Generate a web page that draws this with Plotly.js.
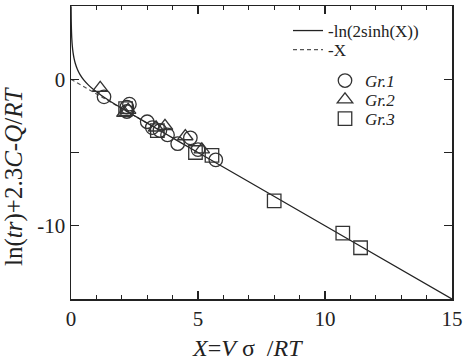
<!DOCTYPE html>
<html>
<head>
<meta charset="utf-8">
<script src="https://cdn.plot.ly/plotly-3.0.1.min.js"></script>
<style>html,body{margin:0;padding:0;background:#fff;}#chart{width:466px;height:362px;}</style>
</head>
<body>
<div id="chart"></div>
<script>
const gr1X = [1.3, 2.2, 2.3, 2.2, 3.0, 3.2, 3.5, 3.8, 4.2, 4.7, 5.0, 5.7];
const gr1Y = [-1.2, -1.9, -1.7, -2.2, -2.9, -3.3, -3.5, -3.8, -4.4, -4.0, -4.8, -5.5];
const gr2X = [1.15, 2.1, 2.25, 3.35, 3.7, 4.5, 5.15];
const gr2Y = [-0.6, -2.3, -2.1, -3.3, -3.2, -3.9, -4.8];
const gr3X = [2.15, 3.4, 4.9, 5.55, 8.0, 10.7, 11.4];
const gr3Y = [-2.0, -3.5, -5.0, -5.2, -8.3, -10.5, -11.5];
// Theory curves: -ln(2 sinh X) and -X
const curveX = [0.0034, 0.005, 0.008, 0.012, 0.02, 0.03, 0.05, 0.08, 0.12, 0.17, 0.25, 0.35, 0.5, 0.7, 0.9, 1.2, 1.5, 2, 2.5, 3, 4, 5, 7, 10, 15];
const dashX = [0, 0.5, 1, 1.5, 2, 2.5, 3];
const curveY = curveX.map(x => -Math.log(2 * Math.sinh(x)));
const dashY = dashX.map(x => -x);
const xTicks = [0, 5, 10, 15];
const yTickVals = [-15, -10, -5, 0, 5];
const yTickText = ['', '-10', '', '0', ''];
const xTitle = '<i>X</i>=<i>V</i>&nbsp;σ&nbsp;&nbsp;/<i>RT</i>';
const yTitle = 'ln(<i>tr</i>)+2.3<i>C</i>-<i>Q</i>/<i>RT</i>';

const F = 'Liberation Serif, Times New Roman, serif';
const mk = (sym) => ({symbol: sym, size: 13.5, color: '#333', line: {color: '#333', width: 1.3}});

const traces = [
  {x: dashX, y: dashY, mode: 'lines', name: '-X', line: {color: '#555', width: 1.2, dash: '4px,3px'}, legend: 'legend2'},
  {x: curveX, y: curveY, mode: 'lines', name: '-ln(2sinh(X))', line: {color: '#222', width: 1.3, shape: 'spline'}, legend: 'legend'},
  {x: gr1X, y: gr1Y, mode: 'markers', name: '<i>Gr.1</i>', marker: mk('circle-open'), legend: 'legend3'},
  {x: gr2X, y: gr2Y, mode: 'markers', name: '<i>Gr.2</i>', marker: mk('triangle-up-open'), legend: 'legend4'},
  {x: gr3X, y: gr3Y, mode: 'markers', name: '<i>Gr.3</i>', marker: mk('square-open'), legend: 'legend5'}
];

const leg = (yPix, xPix, size) => ({
  x: (xPix - 71) / 381, y: (299 - yPix) / 293, xanchor: 'left', yanchor: 'middle',
  bgcolor: 'rgba(0,0,0,0)', font: {family: F, size: size, color: '#222'}
});

const axisCommon = {
  showgrid: false, zeroline: false, showline: true, linecolor: '#222', linewidth: 1.5,
  mirror: 'ticks', ticks: 'inside', tickcolor: '#222', tickwidth: 1.2,
  tickfont: {family: F, size: 21, color: '#222'}
};

const layout = {
  width: 466, height: 362,
  margin: {l: 71, r: 14, t: 6, b: 63},
  paper_bgcolor: '#fff', plot_bgcolor: '#fff',
  showlegend: true,
  xaxis: Object.assign({}, axisCommon, {
    range: [0, 15], tickvals: xTicks, ticklen: 8,
    minor: {dtick: 1, ticks: 'inside', ticklen: 4, tickcolor: '#222', tickwidth: 1}
  }),
  yaxis: Object.assign({}, axisCommon, {
    range: [-15, 5], tickvals: yTickVals, ticktext: yTickText, ticklen: 8
  }),
  annotations: [
    {text: xTitle, xref: 'paper', yref: 'paper', x: (247 - 71) / 381, y: (299 - 348) / 293,
     xanchor: 'center', yanchor: 'middle', showarrow: false, font: {family: F, size: 24, color: '#222'}},
    {text: yTitle, xref: 'paper', yref: 'paper', x: (14 - 71) / 381, y: (299 - 177) / 293,
     xanchor: 'center', yanchor: 'middle', textangle: -90, showarrow: false, font: {family: F, size: 25, color: '#222'}}
  ],
  legend: leg(31, 288, 17),
  legend2: leg(50, 288, 17),
  legend3: leg(81, 325, 17),
  legend4: leg(100, 325, 17),
  legend5: leg(119, 325, 17)
};

Plotly.newPlot('chart', traces, layout, {displayModeBar: false, staticPlot: true});
</script>
</body>
</html>
